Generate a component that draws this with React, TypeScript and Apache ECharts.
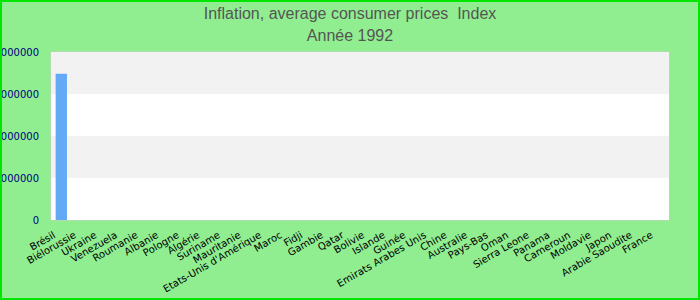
import React, { useEffect, useRef } from "react";
import * as echarts from "echarts";

// Countries shown on the category axis
const countries: string[] = [
  "Brésil", "Biélorussie", "Ukraine", "Venezuela", "Roumanie", "Albanie",
  "Pologne", "Algérie", "Suriname", "Mauritanie", "Etats-Unis d'Amérique",
  "Maroc", "Fidji", "Gambie", "Qatar", "Bolivie", "Islande", "Guinée",
  "Emirats Arabes Unis", "Chine", "Australie", "Pays-Bas", "Oman",
  "Sierra Leone", "Panama", "Cameroun", "Moldavie", "Japon",
  "Arabie Saoudite", "France",
];

// Consumer price index, 1992
const indexValues: number[] = [
  34800000, 5200, 3100, 940, 780, 610, 520, 430, 360, 310, 270,
  240, 210, 190, 170, 150, 135, 120, 105, 95, 86, 78, 70, 64,
  58, 52, 47, 42, 38, 34,
];

const yMax = 40000000;
const yInterval = 10000000;

export default function App() {
  const ref = useRef<HTMLDivElement>(null);

  useEffect(() => {
    if (!ref.current) return;
    const chart = echarts.init(ref.current, null, { renderer: "svg" });
    chart.setOption({
      animation: false,
      backgroundColor: "#90ee90",
      title: {
        text: "Inflation, average consumer prices  Index",
        subtext: "Année 1992",
        left: "center",
        top: 0,
        itemGap: 6,
        textStyle: {
          fontFamily: "Liberation Sans, Arial, sans-serif",
          fontSize: 16,
          fontWeight: "normal",
          color: "#555555",
        },
        subtextStyle: {
          fontFamily: "Liberation Sans, Arial, sans-serif",
          fontSize: 16,
          color: "#555555",
        },
      },
      graphic: [
        {
          type: "rect",
          shape: { x: 1, y: 1, width: 698, height: 298 },
          style: { fill: "none", stroke: "#00e600", lineWidth: 2 },
          z: 100,
        },
      ],
      grid: {
        left: 51,
        right: 31,
        top: 52,
        bottom: 80,
        containLabel: false,
        outerBoundsMode: "none",
        show: true,
        borderColor: "#cccccc",
        borderWidth: 1,
        backgroundColor: "transparent",
      },
      xAxis: {
        type: "category",
        data: countries,
        axisLine: { show: false },
        axisTick: { show: false },
        axisLabel: {
          interval: 0,
          rotate: 30,
          margin: 10,
          padding: [0, 8, 0, 0],
          fontSize: 10,
          color: "#000000",
          fontFamily: "DejaVu Sans, Verdana, sans-serif",
        },
      },
      yAxis: {
        type: "value",
        min: 0,
        max: yMax,
        interval: yInterval,
        axisLine: { show: false },
        axisTick: { show: false },
        splitLine: { show: false },
        splitArea: {
          show: true,
          areaStyle: { color: ["#ffffff", "#f2f2f2"] },
        },
        axisLabel: {
          margin: 12,
          fontSize: 10,
          color: "#000080",
          fontFamily: "DejaVu Sans, Verdana, sans-serif",
          formatter: (v: number) => String(v),
        },
      },
      series: [
        {
          type: "bar",
          data: indexValues,
          barWidth: "55%",
          itemStyle: { color: "#63a9f6" },
        },
      ],
    });
    return () => chart.dispose();
  }, []);

  return (
    <div
      ref={ref}
      style={{ position: "absolute", left: 0, top: 0, width: 700, height: 300 }}
    />
  );
}
